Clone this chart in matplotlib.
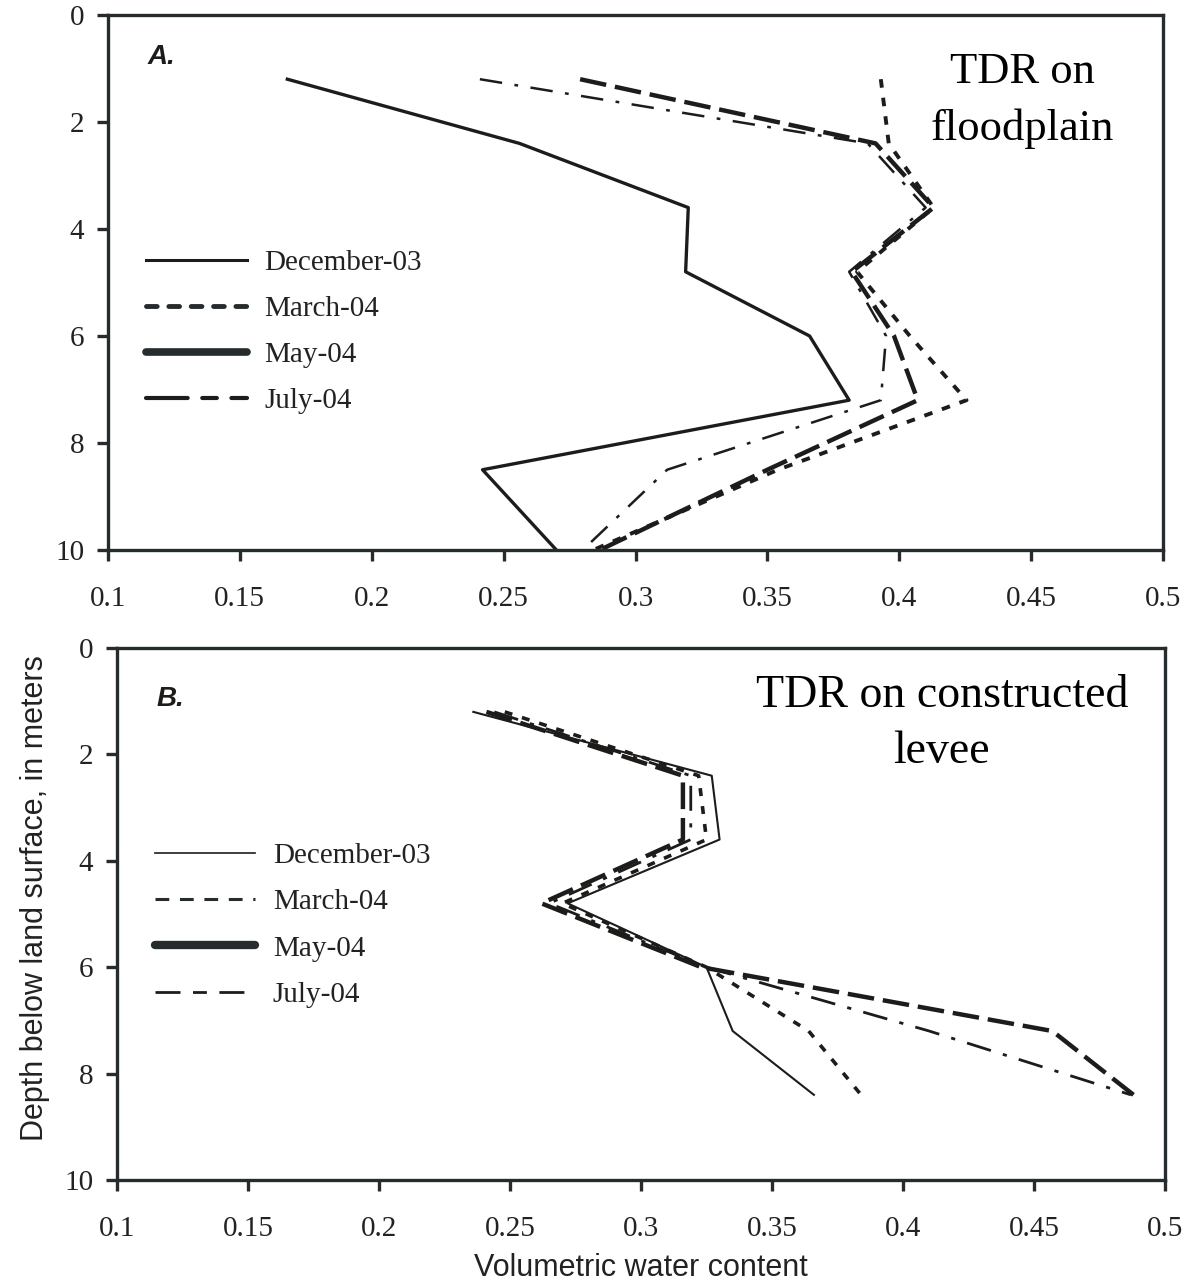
import matplotlib
matplotlib.use("Agg")
import matplotlib.pyplot as plt
from matplotlib.lines import Line2D

# ---------------- data ----------------
months = ["December-03", "March-04", "May-04", "July-04"]

depth_a = [1.2, 2.4, 3.6, 4.8, 6.0, 7.2, 8.5, 10.0]
dec_a = [0.168, 0.256, 0.320, 0.319, 0.366, 0.381, 0.242, 0.270]
mar_a = [0.393, 0.396, 0.413, 0.384, 0.404, 0.4255, 0.354, 0.284]
may_a = [0.279, 0.391, 0.413, 0.382, 0.398, 0.407, 0.350, 0.2865]
jul_a = [0.241, 0.388, 0.410, 0.381, 0.395, 0.393, 0.312, 0.280]

depth_b = [1.2, 2.4, 3.6, 4.8, 6.0, 7.2, 8.4]
dec_b = [0.236, 0.327, 0.330, 0.272, 0.325, 0.335, 0.366]
mar_b = [0.248, 0.322, 0.325, 0.270, 0.325, 0.364, 0.384]
may_b = [0.241, 0.316, 0.316, 0.262, 0.323, 0.457, 0.488]
jul_b = [0.244, 0.319, 0.319, 0.265, 0.325, 0.410, 0.487]

xticks = [0.1, 0.15, 0.2, 0.25, 0.3, 0.35, 0.4, 0.45, 0.5]
xticklabels = ["0.1", "0.15", "0.2", "0.25", "0.3", "0.35", "0.4", "0.45", "0.5"]
yticks = [0, 2, 4, 6, 8, 10]

SERIF = ["Liberation Serif", "DejaVu Serif"]
SANS = ["Liberation Sans", "DejaVu Sans"]
INK = "#1e1c1a"
SPINE = "#262b2e"

fig = plt.figure(figsize=(11.93, 12.82), dpi=100)
axA = fig.add_axes([0.0905, 0.5710, 0.8844, 0.4173])
axB = fig.add_axes([0.0981, 0.0796, 0.8784, 0.4149])


def style_axes(ax):
    ax.set_xlim(0.1, 0.5)
    ax.set_ylim(10, 0)
    ax.set_xticks(xticks)
    ax.set_xticklabels(xticklabels)
    ax.set_yticks(yticks)
    for s in ax.spines.values():
        s.set_linewidth(2.4)
        s.set_color(SPINE)
    ax.tick_params(axis="both", direction="out", length=8, width=2.4,
                   color=SPINE, labelsize=21, labelcolor="#222222")
    ax.tick_params(axis="x", pad=18)
    ax.tick_params(axis="y", pad=9)
    for lab in ax.get_xticklabels() + ax.get_yticklabels():
        lab.set_family(SERIF)


LEG_KW = dict(loc="upper left", frameon=False,
              prop={"family": SERIF, "size": 21},
              handlelength=3.45, handletextpad=0.6, labelspacing=0.68,
              borderpad=0, borderaxespad=0)

# ---------------- panel A ----------------
axA.plot(dec_a, depth_a, color=INK, lw=2.4, linestyle="-")
axA.plot(jul_a, depth_a, color=INK, lw=1.8, linestyle=(0, (9, 5, 1.5, 5)))
axA.plot(may_a, depth_a, color=INK, lw=3.2, linestyle=(0, (6, 2)))
axA.plot(mar_a, depth_a, color=INK, lw=2.8, linestyle=(0, (2.2, 2.6)))
style_axes(axA)

axA.text(0.038, 0.922, "A.", transform=axA.transAxes, family=SANS,
         fontsize=20, fontweight="bold", fontstyle="italic", color=INK,
         ha="left", va="center")
axA.text(0.867, 0.84, "TDR on\nfloodplain", transform=axA.transAxes,
         family=SERIF, fontsize=32, color="black", ha="center", va="center",
         linespacing=1.5)

legA = [
    Line2D([], [], color=INK, lw=2.2, linestyle="-"),
    Line2D([], [], color="#262b2e", lw=3.5, linestyle=(0, (2.2, 2.4)), dash_capstyle="round"),
    Line2D([], [], color="#262b2e", lw=5.5, linestyle="-", solid_capstyle="round"),
    Line2D([], [], color=INK, lw=3.0, linestyle=(0, (10, 3.5, 3.5, 3.5)), dash_capstyle="round"),
]
lA = axA.legend(legA, months, bbox_to_anchor=(0.036, 0.562), **LEG_KW)
for t in lA.get_texts():
    t.set_color("#222222")

# ---------------- panel B ----------------
axB.plot(dec_b, depth_b, color=INK, lw=1.5, linestyle="-")
axB.plot(mar_b, depth_b, color=INK, lw=2.6, linestyle=(0, (2.2, 2.8)))
axB.plot(jul_b, depth_b, color=INK, lw=2.0, linestyle=(0, (9, 4.5, 1.5, 4.5)))
axB.plot(may_b, depth_b, color=INK, lw=3.2, linestyle=(0, (6, 2)))
style_axes(axB)

axB.text(0.038, 0.905, "B.", transform=axB.transAxes, family=SANS,
         fontsize=20, fontweight="bold", fontstyle="italic", color=INK,
         ha="left", va="center")
axB.text(0.787, 0.857, "TDR on constructed\nlevee", transform=axB.transAxes,
         family=SERIF, fontsize=33, color="black", ha="center", va="center",
         linespacing=1.42)

legB = [
    Line2D([], [], color=INK, lw=1.2, linestyle="-"),
    Line2D([], [], color="#262b2e", lw=2.2, linestyle=(0, (4.5, 3.5))),
    Line2D([], [], color="#262b2e", lw=6.0, linestyle="-", solid_capstyle="round"),
    Line2D([], [], color=INK, lw=2.0, linestyle=(0, (9, 4.5, 5, 4.5))),
]
lB = axB.legend(legB, months, bbox_to_anchor=(0.036, 0.634), **LEG_KW)
for t in lB.get_texts():
    t.set_color("#222222")

axB.set_xlabel("Volumetric water content", family=SANS, fontsize=22,
               color="#222222", labelpad=8)
axB.set_ylabel("Depth below land surface, in meters", family=SANS,
               fontsize=22, color="#222222")
axB.yaxis.set_label_coords(-0.064, 0.53)

fig.savefig("out.png", dpi=100)
